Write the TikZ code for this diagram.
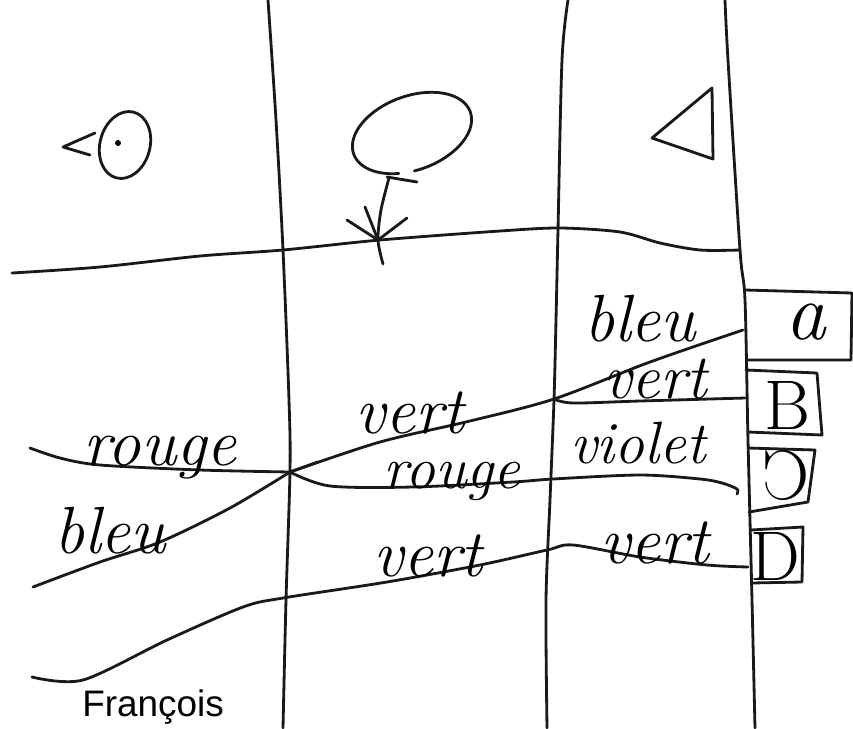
\documentclass[tikz,border=0pt]{standalone}
\usepackage{fontspec}
\newfontfamily\printfont{Liberation Sans}
\begin{document}
\begin{tikzpicture}[x=0.02cm,y=0.02cm,
  ink/.style={line width=1.6pt,line cap=round,line join=round,draw=black!90},
  word/.style={font=\itshape\fontsize{38}{38}\selectfont,anchor=base,inner sep=0pt},
  boxletter/.style={font=\itshape\fontsize{46}{46}\selectfont,inner sep=0pt},
  sign/.style={font=\printfont\fontsize{21}{21}\selectfont,anchor=base,inner sep=0pt}]
\useasboundingbox (0,0) rectangle (853,-728);
\fill[white] (0,0) rectangle (853,-728);
% column lines
\draw[ink] plot[smooth] coordinates {(268,0) (276,-120) (283,-250) (289,-400) (290,-470) (286,-600) (283,-728)};
\draw[ink] plot[smooth] coordinates {(568,0) (562,-60) (558,-230) (556,-320) (554,-400) (550,-500) (546,-600) (547,-728)};
\draw[ink] plot[smooth] coordinates {(725,0) (728,-60) (740,-250) (745,-300) (748,-440) (752,-600) (755,-728)};
% named crossing points
\coordinate (x1) at (290,-472);
\coordinate (x2) at (554,-399);
\coordinate (t1) at (318,-462);
% top horizontal line
\draw[ink] plot[smooth] coordinates {(12,-273) (100,-267) (200,-256) (283,-250) (380,-240) (500,-231) (560,-228) (620,-232) (660,-243) (700,-250) (740,-250)};
% left column lines
\draw[ink] plot[smooth] coordinates {(30,-448) (60,-458) (100,-465) (200,-470) (x1)};
\draw[ink] (x1) -- (t1);
\draw[ink] plot[smooth] coordinates {(33,-587) (100,-562) (160,-542) (230,-508) (x1)};
% middle lines
\draw[ink] plot[smooth] coordinates {(x1) (380,-442) (470,-421) (x2) (650,-362) (743,-330)};
\draw[ink] plot[smooth] coordinates {(x2) (573,-403) (640,-401) (745,-398)};
\draw[ink] plot[smooth] coordinates {(x1) (330,-486) (413,-487) (513,-482) (553,-479) (640,-475) (700,-479) (722,-483) (737,-489) (737,-494)};
\draw[ink] plot[smooth] coordinates {(32,-677) (83,-680) (167,-640) (243,-607) (283,-598) (387,-582) (480,-565) (547,-550) (573,-545) (640,-557) (707,-565) (748,-567)};
% icon 1
\draw[ink] (95,-133) -- (63,-147) -- (90,-155);
\draw[ink,rotate around={-15:(125,-145)}] (125,-145) ellipse [x radius=25, y radius=34];
\fill[black] (118,-143) circle [radius=3];
% icon 2 (flower)
\draw[ink,rotate around={20:(412,-133)}] (412,-133) ++(-100:62 and 37) arc[start angle=-100, end angle=245, x radius=62, y radius=37];
\draw[ink] (387,-177) -- (417,-182);
\draw[ink] plot[smooth] coordinates {(389,-178) (381,-210) (378,-240) (383,-264)};
\draw[ink] (347,-220) -- (378,-240) -- (407,-218);
\draw[ink] (365,-207) -- (378,-240);
% icon 3 (triangle)
\draw[ink] (652,-138) -- (712,-88) -- (713,-159) -- cycle;
% boxes
\draw[ink] (745,-290) -- (852,-293) -- (851,-360) -- (747,-360);
\draw[ink] (746,-370) -- (817,-373) -- (822,-435) -- (748,-432);
\draw[ink] (748,-448) -- (815,-450) -- (808,-502) -- (749,-512);
\draw[ink] (751,-530) -- (803,-527) -- (802,-582) -- (752,-583);
\node[boxletter] (la) at (806,-322) {a};
\node[boxletter,font=\fontsize{40}{40}\selectfont] (lb) at (787,-405) {B};
\node[boxletter,font=\fontsize{40}{40}\selectfont,xscale=-1] (lc) at (786,-475) {C};
\node[boxletter,font=\fontsize{40}{40}\selectfont] (ld) at (775,-556) {D};
% words
\node[word] (w1) at (160,-465) {rouge};
\node[word] (w2) at (110,-553) {bleu};
\node[word] (w3) at (410,-433) {vert};
\node[word,font=\itshape\fontsize{34}{34}\selectfont] (w4) at (452,-488) {rouge};
\node[word] (w5) at (428,-576) {vert};
\node[word] (w6) at (640,-341) {bleu};
\node[word,font=\itshape\fontsize{36}{36}\selectfont] (w7) at (655,-398) {vert};
\node[word,font=\itshape\fontsize{34}{34}\selectfont] (w8) at (638,-463) {violet};
\node[word] (w9) at (655,-563) {vert};
\node[sign] (sig) at (153,-716) {François};
\end{tikzpicture}
\end{document}
